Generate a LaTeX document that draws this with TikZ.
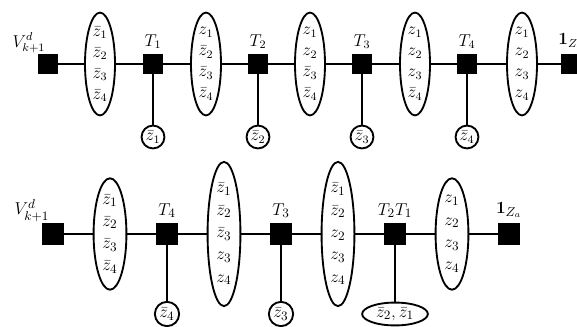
\documentclass[tikz,border=0pt]{standalone}
\usepackage{amsmath}
\usepackage{amssymb}
\usetikzlibrary{shapes,positioning}

\begin{document}
\begin{tikzpicture}[x=0.7pt, y=-0.7pt, every label/.style={font=\fontsize{12}{14}\selectfont}]
	\tikzstyle{tensor} = [rectangle, fill=black, minimum size=14pt, inner sep=0pt]
	\tikzstyle{group} = [ellipse, draw, line width=1.3pt, fill=white, inner sep=0pt,
	minimum width=21pt, minimum height=72pt]
	\tikzstyle{leg} = [circle, draw, line width=1.3pt, fill=white, inner sep=0pt, minimum size=16pt,
	font=\fontsize{12}{14}\selectfont]
	\tikzstyle{vars} = [align=center, font=\fontsize{12}{14.7}\selectfont]
	\tikzstyle{line} = [draw, line width=1.2pt]
	\useasboundingbox (0,0) rectangle (577,327);
	% Place nodes (first chain)
	\node [tensor, label={[xshift=6pt, label distance=-4pt]above left:$V^d_{k+1}$}] (va) at (48,64) {};
	\node [group, label={[vars]center:{$\bar z_1$\\$\bar z_2$\\$\bar z_3$\\$\bar z_4$}}] (ea) at (100,64) {};
	\node [tensor, label=above:$T_1$] (ta) at (153,64) {};
	\node [group, label={[vars]center:{$z_1$\\$\bar z_2$\\$\bar z_3$\\$\bar z_4$}}] (eb) at (206,64) {};
	\node [tensor, label=above:$T_2$] (tb) at (258,64) {};
	\node [group, label={[vars]center:{$z_1$\\$z_2$\\$\bar z_3$\\$\bar z_4$}}] (ec) at (310,64) {};
	\node [tensor, label=above:$T_3$] (tc) at (362,64) {};
	\node [group, label={[vars]center:{$z_1$\\$z_2$\\$z_3$\\$\bar z_4$}}] (ed) at (415,64) {};
	\node [tensor, label=above:$T_4$] (td) at (467,64) {};
	\node [group, label={[vars]center:{$z_1$\\$z_2$\\$z_3$\\$z_4$}}] (ee) at (522,64) {};
	\node [tensor, label=above:$\mathbf{1}_{Z_a}$] (ua) at (571,64) {};
	\node [leg] (la) at (153,137) {$\bar z_1$};
	\node [leg] (lb) at (258,137) {$\bar z_2$};
	\node [leg] (lc) at (362,137) {$\bar z_3$};
	\node [leg] (ld) at (467,137) {$\bar z_4$};
	% Draw edges
	\path [line] (va) -- (ea) -- (ta) -- (eb) -- (tb) -- (ec) -- (tc) -- (ed) -- (td) -- (ee) -- (ua);
	\path [line] (ta) -- (la);
	\path [line] (tb) -- (lb);
	\path [line] (tc) -- (lc);
	\path [line] (td) -- (ld);
	\begin{scope}[every label/.style={font=\fontsize{13}{15}\selectfont},
		vars/.style={align=center, font=\fontsize{13}{15.6}\selectfont}]
	\tikzstyle{tensor} = [rectangle, fill=black, minimum size=15.4pt, inner sep=0pt]
	\tikzstyle{group} = [ellipse, draw, line width=1.3pt, fill=white, inner sep=0pt,
	minimum width=23pt, minimum height=78pt]
	\tikzstyle{tall} = [group, minimum height=101pt]
	\tikzstyle{leg} = [circle, draw, line width=1.3pt, fill=white, inner sep=0pt, minimum size=17pt,
	font=\fontsize{13}{15}\selectfont]
	% Place nodes (second chain)
	\node [tensor, label={[xshift=6pt, label distance=-4pt]above left:$V^d_{k+1}$}] (vb) at (53,234) {};
	\node [group, label={[vars]center:{$\bar z_1$\\$\bar z_2$\\$\bar z_3$\\$\bar z_4$}}] (fa) at (110,234) {};
	\node [tensor, label=above:$T_4$] (sa) at (167,234) {};
	\node [tall, label={[vars]center:{$\bar z_1$\\$\bar z_2$\\$\bar z_3$\\$z_3$\\$z_4$}}] (fb) at (224,234) {};
	\node [tensor, label=above:$T_3$] (sb) at (281,234) {};
	\node [tall, label={[vars]center:{$\bar z_1$\\$\bar z_2$\\$z_2$\\$z_3$\\$z_4$}}] (fc) at (338,234) {};
	\node [tensor, label=above:$T_2T_1$] (sc) at (395,234) {};
	\node [group, label={[vars]center:{$z_1$\\$z_2$\\$z_3$\\$z_4$}}] (fd) at (452,234) {};
	\node [tensor, label=above:$\mathbf{1}_{Z_a}$] (ub) at (509,234) {};
	\node [leg] (ma) at (167,314) {$\bar z_4$};
	\node [leg] (mb) at (281,314) {$\bar z_3$};
	\node [ellipse, draw, line width=1.3pt, fill=white, inner sep=0pt, minimum width=46pt,
	minimum height=16pt, font=\fontsize{13}{15}\selectfont] (mc) at (395,314) {$\bar z_2, \bar z_1$};
	% Draw edges
	\path [line] (vb) -- (fa) -- (sa) -- (fb) -- (sb) -- (fc) -- (sc) -- (fd) -- (ub);
	\path [line] (sa) -- (ma);
	\path [line] (sb) -- (mb);
	\path [line] (sc) -- (mc);
	\end{scope}
\end{tikzpicture}
\end{document}
